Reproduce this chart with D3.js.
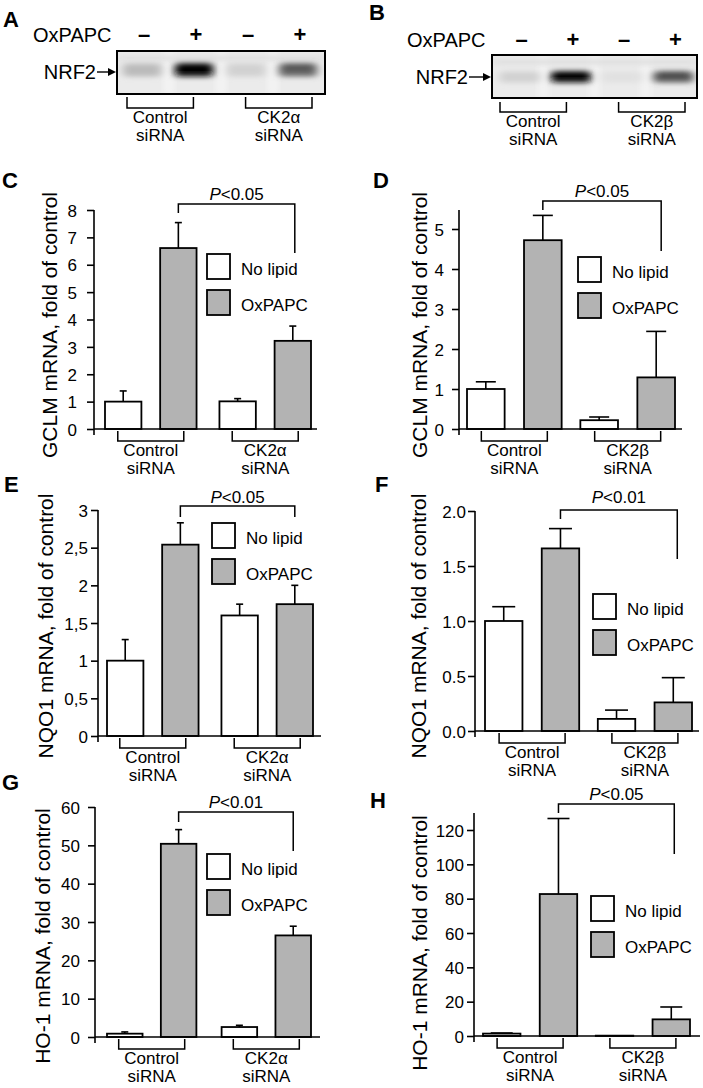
<!DOCTYPE html>
<html><head><meta charset="utf-8">
<script src="https://cdn.jsdelivr.net/npm/d3@7"></script>
<style>
body{margin:0;background:#fff}
svg{display:block}
text{font-family:"Liberation Sans",Arial,Helvetica,sans-serif;fill:#000}
</style>
</head><body>
<svg id="fig" width="703" height="1088"></svg>
<script>
// ---------------- DATA ----------------
const conditions = ["No lipid", "OxPAPC"];
const groupsAlpha = ["Control", "CK2α"];
const groupsBeta = ["Control", "CK2β"];
const groupSub = "siRNA";
const lanes = ["ctl-", "ctl+", "kd-", "kd+"];
const oxpapcSigns = ["–", "+", "–", "+"];
const nrf2BandA = [0.22, 1.0, 0.12, 0.58];
const nrf2BandB = [0.12, 1.0, 0.05, 0.64];

// bar order: Control/No lipid, Control/OxPAPC, KD/No lipid, KD/OxPAPC
const gclmAlphaMean = [1.0, 6.61, 1.01, 3.22];
const gclmAlphaErr  = [0.39, 0.93, 0.10, 0.54];
const gclmBetaMean  = [1.0, 4.72, 0.22, 1.29];
const gclmBetaErr   = [0.18, 0.62, 0.08, 1.15];
const nqo1AlphaMean = [1.0, 2.54, 1.60, 1.75];
const nqo1AlphaErr  = [0.28, 0.29, 0.15, 0.25];
const nqo1BetaMean  = [1.0, 1.66, 0.11, 0.26];
const nqo1BetaErr   = [0.13, 0.18, 0.08, 0.225];
const ho1AlphaMean  = [0.87, 50.4, 2.6, 26.5];
const ho1AlphaErr   = [0.45, 3.7, 0.45, 2.4];
const ho1BetaMean   = [1.4, 82.7, 0.2, 9.7];
const ho1BetaErr    = [0.35, 44.0, 0, 7.2];

const ticksC = [0,1,2,3,4,5,6,7,8];
const tickLabelsC = ["0","1","2","3","4","5","6","7","8"];
const ticksD = [0,1,2,3,4,5];
const tickLabelsD = ["0","1","2","3","4","5"];
const ticksE = [0,0.5,1,1.5,2,2.5,3];
const tickLabelsE = ["0","0,5","1","1,5","2","2,5","3"];
const ticksF = [0,0.5,1,1.5,2];
const tickLabelsF = ["0.0","0.5","1.0","1.5","2.0"];
const ticksG = [0,10,20,30,40,50,60];
const tickLabelsG = ["0","10","20","30","40","50","60"];
const ticksH = [0,20,40,60,80,100,120];
const tickLabelsH = ["0","20","40","60","80","100","120"];

const pValues = ["<0.05", "<0.05", "<0.05", "<0.01", "<0.01", "<0.05"];
const yTitles = ["GCLM mRNA, fold of control","GCLM mRNA, fold of control",
  "NQO1 mRNA, fold of control","NQO1 mRNA, fold of control",
  "HO-1 mRNA, fold of control","HO-1 mRNA, fold of control"];

// ---------------- LAYOUT ----------------
const GREY = "#b3b3b3";
const svg = d3.select("#fig");
const FONT = "'Liberation Sans',Arial,Helvetica,sans-serif";

svg.append("defs").append("filter").attr("id","blur")
  .attr("x","-50%").attr("y","-100%").attr("width","200%").attr("height","300%")
  .append("feGaussianBlur").attr("stdDeviation","4 2.8");

function panelLabel(t, x, y){
  svg.append("text").attr("x",x).attr("y",y).attr("font-size",22)
    .attr("font-weight","bold").text(t);
}

function drawBlot(b){
  const g = svg.append("g");
  panelLabel(b.id, b.labelX, b.labelY);
  const lx = d3.scaleBand().domain(lanes).range([b.x0, b.x1]);
  const clipId = "clip" + b.id;
  g.append("clipPath").attr("id",clipId).append("rect")
    .attr("x",b.x0).attr("y",b.y0).attr("width",b.x1-b.x0).attr("height",b.y1-b.y0);
  const inner = g.append("g").attr("clip-path",`url(#${clipId})`);
  inner.append("rect").attr("x",b.x0).attr("y",b.y0).attr("width",b.x1-b.x0)
    .attr("height",b.y1-b.y0).attr("fill","#ebebeb");
  lanes.forEach((l,i)=>{
    if(i>0) inner.append("rect").attr("x",lx(l)-4).attr("y",b.y0).attr("width",8)
      .attr("height",b.y1-b.y0).attr("fill","#f6f6f6").attr("filter","url(#blur)");
  });
  inner.append("rect").attr("x",b.x0).attr("y",b.y0+4).attr("width",b.x1-b.x0)
    .attr("height",6).attr("fill","#e0e0e0").attr("filter","url(#blur)");
  const bands = inner.append("g").attr("filter","url(#blur)");
  b.bands.forEach((v,i)=>{
    const cx = lx(lanes[i]) + lx.bandwidth()/2 + b.laneShift;
    const c = Math.round(236 - 222*v);
    bands.append("rect").attr("x",cx-b.bandW/2).attr("y",b.bandY-b.bandH/2)
      .attr("width",b.bandW).attr("height",b.bandH).attr("rx",4)
      .attr("fill",d3.rgb(c,c,c));
    if(v>0.5){
      const c2 = Math.round(236 - 236*Math.min(1,v*1.1));
      bands.append("rect").attr("x",cx-b.bandW/2+3).attr("y",b.bandY-b.bandH/2)
        .attr("width",b.bandW-6).attr("height",b.bandH*0.55).attr("rx",3)
        .attr("fill",d3.rgb(c2,c2,c2));
    }
  });
  g.append("rect").attr("x",b.x0).attr("y",b.y0).attr("width",b.x1-b.x0)
    .attr("height",b.y1-b.y0).attr("fill","none").attr("stroke","#000").attr("stroke-width",2);
  g.append("text").attr("x",b.oxX).attr("y",b.signY).attr("font-size",20).text("OxPAPC");
  g.selectAll(".sign").data(oxpapcSigns).join("text")
    .attr("x",(d,i)=>lx(lanes[i])+lx.bandwidth()/2+b.laneShift+2).attr("y",b.signY)
    .attr("text-anchor","middle").attr("font-size",22).attr("font-weight","bold").text(d=>d);
  g.append("text").attr("x",b.nrfX).attr("y",b.arrowY+7).attr("text-anchor","end")
    .attr("font-size",20).text("NRF2");
  g.append("line").attr("x1",b.nrfX+1).attr("x2",b.x0-6).attr("y1",b.arrowY).attr("y2",b.arrowY)
    .attr("stroke","#000").attr("stroke-width",1.4);
  g.append("path").attr("d",`M${b.x0-1},${b.arrowY} L${b.x0-9},${b.arrowY-4} L${b.x0-9},${b.arrowY+4}Z`)
    .attr("fill","#000");
  const gx = d3.scaleBand().domain(b.groups).range([b.brL, b.brR]).paddingInner(0.44);
  b.groups.forEach(gr=>{
    const a = gx(gr), e = gx(gr)+gx.bandwidth(), m=(a+e)/2;
    g.append("path").attr("d",`M${a},${b.brTop} V${b.brBot} H${e} V${b.brTop}`)
      .attr("fill","none").attr("stroke","#000").attr("stroke-width",1.5);
    g.append("text").attr("x",m).attr("y",b.brBot+15).attr("text-anchor","middle")
      .attr("font-size",17).text(gr);
    g.append("text").attr("x",m).attr("y",b.brBot+33).attr("text-anchor","middle")
      .attr("font-size",17).text(groupSub);
  });
}

function drawPanel(p){
  const g = svg.append("g");
  panelLabel(p.id, p.labelX, p.labelY);
  const y = d3.scaleLinear().domain([0,p.topVal]).range([p.y0,p.topPx]);
  const xg = d3.scaleBand().domain(p.groups).range([p.xLeft,p.xRight]).paddingInner(p.groupPad);
  const xc = d3.scaleBand().domain(conditions).range([0,xg.bandwidth()]).paddingInner(0.34);
  const bw = xc.bandwidth();
  const rows = p.mean.map((m,i)=>({group:p.groups[Math.floor(i/2)], cond:conditions[i%2], mean:m, err:p.err[i]}));
  const bx = d => xg(d.group)+xc(d.cond);
  const cx = d => bx(d)+bw/2;

  rows.filter(d=>d.err>0).forEach(d=>{
    g.append("line").attr("x1",cx(d)).attr("x2",cx(d)).attr("y1",y(d.mean)).attr("y2",y(d.mean+d.err))
      .attr("stroke","#000").attr("stroke-width",1.6);
    g.append("line").attr("x1",cx(d)-p.cap/2).attr("x2",cx(d)+p.cap/2)
      .attr("y1",y(d.mean+d.err)).attr("y2",y(d.mean+d.err))
      .attr("stroke","#000").attr("stroke-width",1.6);
  });
  g.selectAll(".bar").data(rows).join("rect")
    .attr("x",bx).attr("width",bw)
    .attr("y",d=>y(d.mean)).attr("height",d=>y(0)-y(d.mean))
    .attr("fill",d=>d.cond===conditions[0]?"#fff":GREY)
    .attr("stroke","#000").attr("stroke-width",1.8);

  const ax = g.append("g").attr("transform",`translate(${p.axisX},0)`)
    .call(d3.axisLeft(y).tickValues(p.ticks).tickFormat((d,i)=>p.tickLabels[i])
      .tickSize(7).tickPadding(p.tickPad));
  ax.select(".domain").remove();
  ax.attr("font-family",FONT).attr("font-size",17);
  ax.selectAll("line").attr("stroke","#000").attr("stroke-width",1.6);
  ax.selectAll("text").attr("fill","#000").attr("dy","0.36em");
  g.append("line").attr("x1",p.axisX).attr("x2",p.axisX).attr("y1",y(0)+6).attr("y2",p.axisTop)
    .attr("stroke","#000").attr("stroke-width",1.6);
  g.append("line").attr("x1",p.axisX).attr("x2",p.xEnd).attr("y1",y(0)).attr("y2",y(0))
    .attr("stroke","#000").attr("stroke-width",1.6);

  g.append("text").attr("transform",`translate(${p.titleX},${p.titleY}) rotate(-90)`)
    .attr("text-anchor","middle").attr("font-size",21).text(p.yTitle);

  p.groups.forEach(gr=>{
    const m = xg(gr)+xg.bandwidth()/2;
    const a = m-33, e = m+33, bt = y(0)+2, bb = y(0)+12;
    g.append("path").attr("d",`M${a},${bt} V${bb} H${e} V${bt}`)
      .attr("fill","none").attr("stroke","#000").attr("stroke-width",1.5);
    g.append("text").attr("x",m).attr("y",bb+15).attr("text-anchor","middle").attr("font-size",17).text(gr);
    g.append("text").attr("x",m).attr("y",bb+33).attr("text-anchor","middle").attr("font-size",17).text(groupSub);
  });

  const x1 = cx(rows[1]), x2 = cx(rows[3]) + p.sigOff;
  g.append("path").attr("d",`M${x1},${p.sigLB} V${p.sigTop} H${x2} V${p.sigRB}`)
    .attr("fill","none").attr("stroke","#000").attr("stroke-width",1.5);
  const t = g.append("text").attr("x",(x1+x2)/2).attr("y",p.sigTextY).attr("text-anchor","middle").attr("font-size",17);
  t.append("tspan").attr("font-style","italic").text("P");
  t.append("tspan").text(p.pval);

  conditions.forEach((c,i)=>{
    g.append("rect").attr("x",p.legX).attr("y",p.legY+i*36).attr("width",23).attr("height",25)
      .attr("fill",i===0?"#fff":GREY).attr("stroke","#000").attr("stroke-width",1.8);
    g.append("text").attr("x",p.legX+34).attr("y",p.legY+i*36+21).attr("font-size",17).text(c);
  });
}

// ---------------- DRAW ----------------
drawBlot({id:"A", labelX:3, labelY:27, x0:117, x1:325, y0:51, y1:94, bands:nrf2BandA,
  bandY:70, bandH:13, bandW:38, laneShift:-1, oxX:33, signY:42, nrfX:96, arrowY:72,
  groups:groupsAlpha, brL:127, brR:312, brTop:97, brBot:108});
drawBlot({id:"B", labelX:369, labelY:20, x0:492, x1:697, y0:55, y1:98, bands:nrf2BandB,
  bandY:77, bandH:11, bandW:40, laneShift:2, oxX:407, signY:47, nrfX:468, arrowY:77,
  groups:groupsBeta, brL:500, brR:685, brTop:102, brBot:112});

drawPanel({id:"C", labelX:2, labelY:188, groups:groupsAlpha, mean:gclmAlphaMean, err:gclmAlphaErr,
  ticks:ticksC, tickLabels:tickLabelsC, yTitle:yTitles[0], pval:pValues[0],
  axisX:94, y0:429, topVal:8, topPx:210, axisTop:210, xLeft:105, xRight:311, xEnd:317,
  groupPad:0.2, cap:7, tickPad:10, titleX:57, titleY:325,
  sigTop:204, sigLB:213, sigRB:253, sigOff:2, sigTextY:200, legX:207, legY:254});
drawPanel({id:"D", labelX:373, labelY:188, groups:groupsBeta, mean:gclmBetaMean, err:gclmBetaErr,
  ticks:ticksD, tickLabels:tickLabelsD, yTitle:yTitles[1], pval:pValues[1],
  axisX:459, y0:429, topVal:5, topPx:229, axisTop:210, xLeft:467, xRight:675, xEnd:682,
  groupPad:0.165, cap:20, tickPad:8, titleX:427, titleY:325,
  sigTop:201, sigLB:210, sigRB:251, sigOff:5, sigTextY:197, legX:578, legY:257});
drawPanel({id:"E", labelX:4, labelY:492, groups:groupsAlpha, mean:nqo1AlphaMean, err:nqo1AlphaErr,
  ticks:ticksE, tickLabels:tickLabelsE, yTitle:yTitles[2], pval:pValues[2],
  axisX:98, y0:736, topVal:3, topPx:510, axisTop:510, xLeft:107, xRight:313, xEnd:321,
  groupPad:0.2, cap:7, tickPad:3, titleX:53, titleY:626,
  sigTop:506, sigLB:517, sigRB:517, sigOff:0, sigTextY:503, legX:212, legY:523});
drawPanel({id:"F", labelX:375, labelY:492, groups:groupsBeta, mean:nqo1BetaMean, err:nqo1BetaErr,
  ticks:ticksF, tickLabels:tickLabelsF, yTitle:yTitles[3], pval:pValues[3],
  axisX:475, y0:731, topVal:2, topPx:511, axisTop:511, xLeft:485, xRight:692, xEnd:699,
  groupPad:0.165, cap:23, tickPad:2, titleX:426, titleY:626,
  sigTop:510, sigLB:519, sigRB:559, sigOff:4, sigTextY:503, legX:593, legY:594});
drawPanel({id:"G", labelX:2, labelY:790, groups:groupsAlpha, mean:ho1AlphaMean, err:ho1AlphaErr,
  ticks:ticksG, tickLabels:tickLabelsG, yTitle:yTitles[4], pval:pValues[4],
  axisX:95, y0:1037, topVal:60, topPx:807, axisTop:807, xLeft:107, xRight:311, xEnd:320,
  groupPad:0.22, cap:7, tickPad:8, titleX:50, titleY:936,
  sigTop:812, sigLB:822, sigRB:851, sigOff:0, sigTextY:808, legX:207, legY:854});
drawPanel({id:"H", labelX:370, labelY:808, groups:groupsBeta, mean:ho1BetaMean, err:ho1BetaErr,
  ticks:ticksH, tickLabels:tickLabelsH, yTitle:yTitles[5], pval:pValues[5],
  axisX:474, y0:1036, topVal:120, topPx:830, axisTop:813, xLeft:483, xRight:690, xEnd:700,
  groupPad:0.165, cap:22, tickPad:3, titleX:427, titleY:943,
  sigTop:804, sigLB:813, sigRB:854, sigOff:3, sigTextY:800, legX:591, legY:896});
</script>
</body></html>
